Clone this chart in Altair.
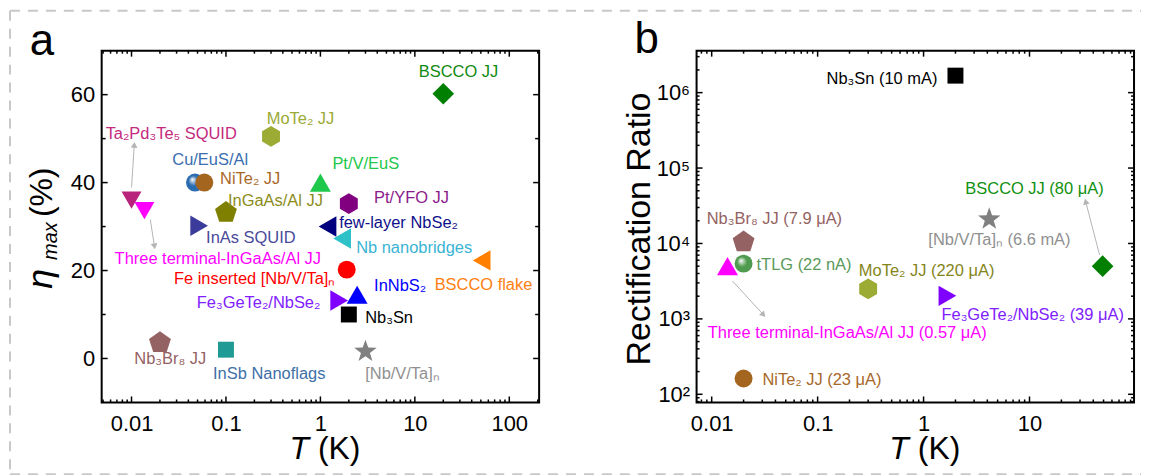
import altair as alt
import pandas as pd

FONT = "Liberation Sans"

# ---------------- panel a data ----------------
a_labels = ["Ta₂Pd₃Te₅ SQUID", "Three terminal-InGaAs/Al JJ", "Cu/EuS/Al", "NiTe₂ JJ",
            "InGaAs/Al JJ", "InAs SQUID", "MoTe₂ JJ", "Pt/V/EuS", "Pt/YFO JJ", "BSCCO JJ",
            "few-layer NbSe₂", "Nb nanobridges", "BSCCO flake", "Fe inserted [Nb/V/Ta]ₙ",
            "InNbS₂", "Fe₃GeTe₂/NbSe₂", "Nb₃Sn", "[Nb/V/Ta]ₙ", "Nb₃Br₈ JJ", "InSb Nanoflags"]
a_T = [0.01, 0.0137, 0.047, 0.059, 0.1, 0.052, 0.3, 1.0, 2.0, 20.0,
       1.19, 1.7, 51.0, 1.9, 2.45, 1.58, 2.0, 3.0, 0.02, 0.1]
a_eta = [36.0, 33.6, 40.0, 40.0, 33.2, 30.2, 50.5, 40.0, 35.2, 60.2,
         30.0, 27.3, 22.3, 20.2, 14.5, 13.2, 10.0, 1.6, 3.6, 2.0]
a_label_T = [0.00532, 0.00662, 0.027, 0.0865, 0.105, 0.0616, 0.27, 1.34, 3.7, 11.0,
             1.58, 2.39, 16.2, 1.44, 3.7, 1.0, 2.98, 2.98, 0.0107, 0.073]
a_label_eta = [51.1, 22.7, 45.2, 40.9, 35.9, 27.5, 54.5, 44.3, 36.4, 65.2,
               30.7, 25.2, 16.8, 18.0, 16.5, 12.5, 9.1, -3.6, -0.2, -3.6]
a_label_align = ["left"] * 13 + ["right", "left", "right"] + ["left"] * 4

# ---------------- panel b data ----------------
b_labels = ["Nb₃Sn (10 mA)", "BSCCO JJ (80 μA)", "[Nb/V/Ta]ₙ (6.6 mA)", "Nb₃Br₈ JJ (7.9 μA)",
            "Three terminal-InGaAs/Al JJ (0.57 μA)", "tTLG (22 nA)", "NiTe₂ JJ (23 μA)",
            "MoTe₂ JJ (220 μA)", "Fe₃GeTe₂/NbSe₂ (39 μA)"]
b_T = [2.0, 49.0, 4.17, 0.02, 0.0141, 0.02, 0.02, 0.3, 1.68]
b_ratio = [1.68e6, 5000, 2.1e4, 1.05e4, 5000, 5400, 162, 2500, 2020]
b_label_T = [1.35, 2.48, 1.11, 0.00898, 0.00917, 0.0265, 0.0301, 0.245, 1.476]
b_label_ratio = [1.53e6, 5.24e4, 1.11e4, 2.1e4, 655, 5190, 157, 4310, 1133]
b_label_align = ["right"] + ["left"] * 8

# annotation arrows (start -> end, data coordinates)
a_arrow_T1 = [0.01, 0.0158]
a_arrow_v1 = [38.9, 31.6]
a_arrow_T2 = [0.0107, 0.0175]
a_arrow_v2 = [48.6, 25.5]
b_arrow_T1 = [0.0157, 45.9]
b_arrow_v1 = [3185, 7030]
b_arrow_T2 = [0.0308, 33.9]
b_arrow_v2 = [1133, 3.6e4]

# ---------------- styles ----------------
PENT = "M0,-1 L0.951,-0.309 L0.588,0.809 L-0.588,0.809 L-0.951,-0.309 Z"
HEX = "M0,-1 L0.866,-0.5 L0.866,0.5 L0,1 L-0.866,0.5 L-0.866,-0.5 Z"
STAR = ("M0,-1 L0.235,-0.324 L0.951,-0.309 L0.380,0.124 L0.588,0.809 L0,0.4 "
        "L-0.588,0.809 L-0.380,0.124 L-0.951,-0.309 L-0.235,-0.324 Z")
SHAPE = {"tu": "triangle-up", "td": "triangle-down", "tl": "triangle-left", "tr": "triangle-right",
         "c": "circle", "s": "square", "d": "diamond", "p": PENT, "h": HEX, "st": STAR, "sp": "circle"}
SIZE = {"tu": 441, "td": 400, "tl": 420, "tr": 420, "c": 324, "s": 256, "d": 470,
        "p": 530, "h": 430, "st": 560, "sp": 324}

a_shape = ["td", "td", "sp", "c", "p", "tr", "h", "tu", "h", "d",
           "tl", "tl", "tl", "c", "tu", "tr", "s", "st", "p", "s"]
a_marker_color = ["#B8237C", "#FF00FF", "#2B6CB0", "#A4651E", "#7F7F00", "#3B3B9B", "#9BAB33",
                  "#1EC84A", "#800080", "#007F00", "#00007F", "#2EC2C8", "#FF8000", "#FF0000",
                  "#0000FF", "#8000FF", "#000000", "#808080", "#946262", "#1F9A94"]
a_label_color = ["#C42A7E", "#FF00FF", "#3A6EB0", "#A8682A", "#8C8C1A", "#4A4A9A", "#9AAA35",
                 "#22C84A", "#8B1A8B", "#108A10", "#10108A", "#3AB4D4", "#FF8010", "#FF0000",
                 "#0000FF", "#8020FF", "#000000", "#909090", "#946262", "#3D6FA8"]
b_shape = ["s", "d", "st", "p", "tu", "sp", "c", "h", "tr"]
b_marker_color = ["#000000", "#007F00", "#808080", "#946262", "#FF00FF", "#4E9A4E",
                  "#A4651E", "#9BAB33", "#8000FF"]
b_label_color = ["#000000", "#109010", "#909090", "#946262", "#FF00FF", "#5A9A5A",
                 "#A8682A", "#85851A", "#8020FF"]

ARROW_COLOR = "#B4B4B4"
a_arrow_angle = [4, 171]
b_arrow_angle = [138, 345]

W, H = 439, 353


def make_df(T, v, shape, mcolor):
    return pd.DataFrame({"T": T, "v": v,
                         "shape": [SHAPE[s] for s in shape],
                         "kind": shape,
                         "sz": [SIZE[s] for s in shape],
                         "col": mcolor})


def panel(xs, ys, xax, yax, T, v, shape, mcolor, labels, lT, lv, lcol, lalign,
          aT1, av1, aT2, av2, aang, sphere_first, xmaj, xmin, ymaj, ymin, ymin_len, extras):
    def X(f):
        return alt.X(f, type="quantitative", scale=xs, axis=xax, title=None)

    def Y(f):
        return alt.Y(f, type="quantitative", scale=ys, axis=yax, title=None)

    df = make_df(T, v, shape, mcolor)
    main = df[df["kind"] != "sp"]
    sph = df[df["kind"] == "sp"]

    layers = list(extras)

    # ticks (inward, all four sides)
    for vals, L in [(xmaj, 6), (xmin, 3)]:
        tdf = pd.DataFrame({"tv": vals})
        base = alt.Chart(tdf).mark_rule(color="black", strokeWidth=1.5)
        layers.append(base.encode(x=X("tv"), y=alt.value(H), y2=alt.value(H - L)))
        layers.append(base.encode(x=X("tv"), y=alt.value(0), y2=alt.value(L)))
    for vals, L in [(ymaj, 6), (ymin, ymin_len)]:
        tdf = pd.DataFrame({"tv": vals})
        base = alt.Chart(tdf).mark_rule(color="black", strokeWidth=1.5)
        layers.append(base.encode(y=Y("tv"), x=alt.value(0), x2=alt.value(L)))
        layers.append(base.encode(y=Y("tv"), x=alt.value(W), x2=alt.value(W - L)))

    # arrows
    adf = pd.DataFrame({"T1": aT1, "v1": av1, "T2": aT2, "v2": av2, "ang": aang})
    layers.append(alt.Chart(adf).mark_rule(color=ARROW_COLOR, strokeWidth=1).encode(
        x=X("T1"), x2=alt.X2("T2"), y=Y("v1"), y2=alt.Y2("v2")))
    layers.append(alt.Chart(adf).mark_point(shape="triangle-up", filled=True, size=45,
                                            color=ARROW_COLOR, opacity=1).encode(
        x=X("T2"), y=Y("v2"), angle=alt.Angle("ang:Q", scale=None)))

    def sphere_layers():
        out = []
        for _, r in sph.iterrows():
            c = r["col"]
            grad = alt.RadialGradient(
                gradient="radial",
                stops=[alt.GradientStop(color="#FFFFFF", offset=0),
                       alt.GradientStop(color=c, offset=0.45),
                       alt.GradientStop(color=c, offset=1)],
                x1=0.35, y1=0.32, r1=0, x2=0.5, y2=0.5, r2=0.62)
            out.append(alt.Chart(sph[sph["col"] == c]).mark_point(
                shape="circle", filled=True, size=int(r["sz"]), opacity=1, fill=grad,
                strokeWidth=0).encode(x=X("T"), y=Y("v")))
        return out

    if sphere_first:
        layers += sphere_layers()
    layers.append(alt.Chart(main).mark_point(filled=True, opacity=1, strokeWidth=0).encode(
        x=X("T"), y=Y("v"),
        shape=alt.Shape("shape:N", scale=None),
        color=alt.Color("col:N", scale=None),
        size=alt.Size("sz:Q", scale=None)))
    if not sphere_first:
        layers += sphere_layers()

    ldf = pd.DataFrame({"label": labels, "lT": lT, "lv": lv, "col": lcol, "al": lalign})
    for al in ["left", "right"]:
        sub = ldf[ldf["al"] == al]
        if len(sub):
            layers.append(alt.Chart(sub).mark_text(align=al, baseline="middle", font=FONT,
                                                   fontSize=16.5).encode(
                x=X("lT"), y=Y("lv"), text="label:N", color=alt.Color("col:N", scale=None)))
    return alt.layer(*layers).properties(width=W, height=H)


ONE = pd.DataFrame({"k": [0]})


def txt(text, x, y, size, angle=0, align="center", baseline="alphabetic", italic=False):
    kw = dict(align=align, baseline=baseline, font=FONT, fontSize=size, color="black")
    if angle:
        kw["angle"] = angle
    if italic:
        kw["fontStyle"] = "italic"
    return alt.Chart(ONE).mark_text(**kw).encode(x=alt.value(x), y=alt.value(y),
                                                 text=alt.value(text))


BORDER = dict(color="#C8C8C8", strokeWidth=2, strokeDash=[10, 8])
border_layers = [
    alt.Chart(ONE).mark_rule(**BORDER).encode(x=alt.value(-92), x2=alt.value(1043), y=alt.value(-40)),
    alt.Chart(ONE).mark_rule(**BORDER).encode(x=alt.value(-92), x2=alt.value(1043), y=alt.value(425)),
    alt.Chart(ONE).mark_rule(**BORDER).encode(x=alt.value(-92), y=alt.value(-40), y2=alt.value(425)),
]

lab = dict(labelFont=FONT, labelFontSize=22, labelColor="black", domain=False, ticks=False,
           tickSize=0, grid=False)

# panel a scales / axes
xs_a = alt.Scale(type="log", domain=[0.00483, 207], nice=False)
ys_a = alt.Scale(domain=[-10, 70], nice=False, zero=False)
xax_a = alt.Axis(values=[0.01, 0.1, 1, 10, 100], format="~g", labelPadding=11, **lab)
yax_a = alt.Axis(values=[0, 20, 40, 60], labelPadding=7, **lab)
a_xmaj = [0.01, 0.1, 1, 10, 100]
a_xmin = [m * 10.0 ** e for e in range(-3, 3) for m in range(2, 10) if 0.00483 < m * 10.0 ** e < 207]

extras_a = border_layers + [
    txt("a", -60, 4, 44),
    txt("T", 208, 410, 32, align="right", italic=True),
    txt("(K)", 217, 410, 32, align="left"),
    txt("η", -50, 239, 36, angle=270, align="left", italic=True),
    txt("max", -45, 210, 20, angle=270, align="left", italic=True),
    txt("(%)", -50, 167, 32, angle=270, align="left"),
]

pa = panel(xs_a, ys_a, xax_a, yax_a, a_T, a_eta, a_shape, a_marker_color,
           a_labels, a_label_T, a_label_eta, a_label_color, a_label_align,
           a_arrow_T1, a_arrow_v1, a_arrow_T2, a_arrow_v2, a_arrow_angle, True,
           a_xmaj, a_xmin, [0, 20, 40, 60], [10, 30, 50], 4, extras_a)

# panel b scales / axes
xs_b = alt.Scale(type="log", domain=[0.0072, 97], nice=False)
ys_b = alt.Scale(type="log", domain=[78, 3.6e6], nice=False)
xax_b = alt.Axis(values=[0.01, 0.1, 1, 10], format="~g", labelPadding=11, **lab)
yax_b = alt.Axis(values=[1e2, 1e3, 1e4, 1e5, 1e6], labelPadding=7,
                 labelExpr="'10' + ['⁰','¹','²','³','⁴','⁵','⁶','⁷'][round(log(datum.value)/LN10)]",
                 **lab)
b_xmaj = [0.01, 0.1, 1, 10]
b_xmin = [m * 10.0 ** e for e in range(-3, 2) for m in range(2, 10) if 0.0072 < m * 10.0 ** e < 97]
b_ymaj = [1e2, 1e3, 1e4, 1e5, 1e6]
b_ymin = [m * 10.0 ** e for e in range(1, 7) for m in range(2, 10) if 78 < m * 10.0 ** e < 3.6e6]

extras_b = [
    txt("b", -50, 2, 44),
    txt("T", 213, 410, 32, align="right", italic=True),
    txt("(K)", 222, 410, 32, align="left"),
    txt("Rectification Ratio", -47, 179, 34, angle=270, align="center"),
]

pb = panel(xs_b, ys_b, xax_b, yax_b, b_T, b_ratio, b_shape, b_marker_color,
           b_labels, b_label_T, b_label_ratio, b_label_color, b_label_align,
           b_arrow_T1, b_arrow_v1, b_arrow_T2, b_arrow_v2, b_arrow_angle, False,
           b_xmaj, b_xmin, b_ymaj, b_ymin, 3, extras_b)

chart = alt.hconcat(pa, pb, spacing=158, bounds="flush").properties(
    padding=0, background="white"
).configure_view(stroke="black", strokeWidth=2)

chart.save("out.html", embed_options={"renderer": "svg", "actions": False})
